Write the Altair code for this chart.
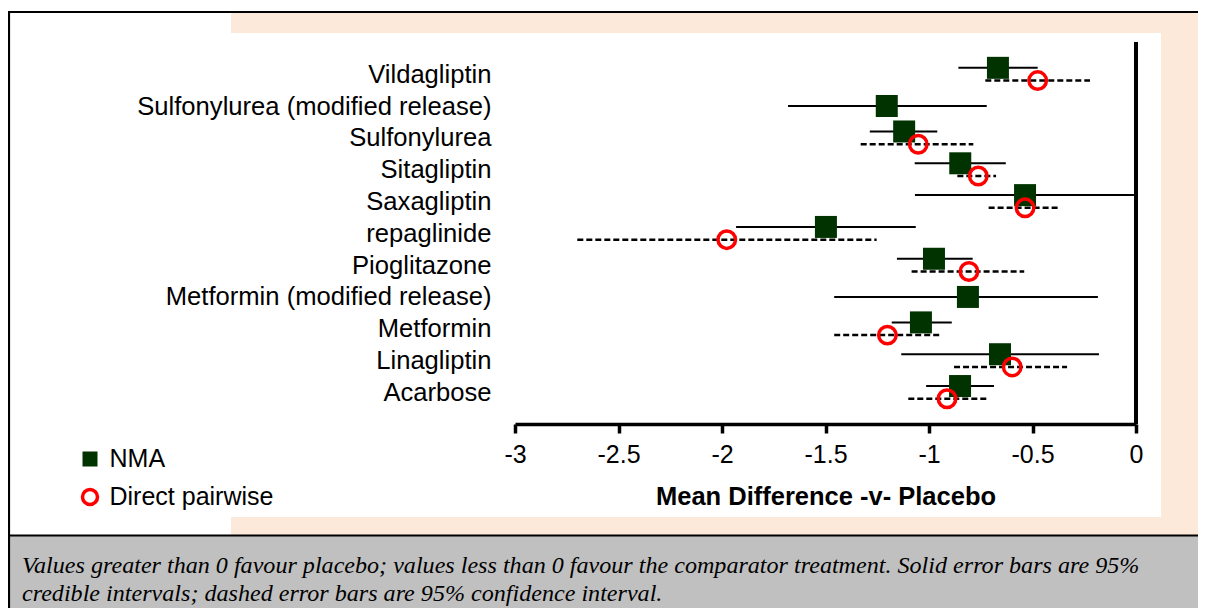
import json
import altair as alt
import pandas as pd

# ---------------- data ----------------
treatments = [
    "Vildagliptin",
    "Sulfonylurea (modified release)",
    "Sulfonylurea",
    "Sitagliptin",
    "Saxagliptin",
    "repaglinide",
    "Pioglitazone",
    "Metformin (modified release)",
    "Metformin",
    "Linagliptin",
    "Acarbose",
]
nma_mean = [-0.667, -1.204, -1.120, -0.849, -0.536, -1.498, -0.976, -0.812, -1.039, -0.657, -0.850]
nma_lo = [-0.858, -1.681, -1.286, -1.069, -1.068, -1.932, -1.155, -1.458, -1.180, -1.134, -1.014]
nma_hi = [-0.475, -0.721, -0.960, -0.629, -0.010, -1.064, -0.789, -0.184, -0.890, -0.179, -0.686]
direct_mean = [-0.475, None, -1.052, -0.762, -0.536, -1.977, -0.807, None, -1.201, -0.598, -0.913]
direct_lo = [-0.728, None, -1.330, -0.863, -0.712, -2.699, -1.084, None, -1.458, -0.879, -1.100]
direct_hi = [-0.222, None, -0.786, -0.676, -0.364, -1.253, -0.540, None, -0.950, -0.333, -0.721]
series_names = ["NMA", "Direct pairwise"]
x_ticks = [-3, -2.5, -2, -1.5, -1, -0.5, 0]
x_title = "Mean Difference -v- Placebo"
caption_lines = [
    "Values greater than 0 favour placebo; values less than 0 favour the comparator treatment. Solid error bars are 95%",
    "credible intervals; dashed error bars are 95% confidence interval.",
]

# ---------------- tables ----------------
nma_rows, dir_rows = [], []
for i, t in enumerate(treatments):
    has_direct = direct_mean[i] is not None
    nma_rows.append({"treatment": t, "pos": i - 0.2 if has_direct else i,
                     "mean": nma_mean[i], "lo": nma_lo[i], "hi": nma_hi[i], "series": series_names[0]})
    if has_direct:
        dir_rows.append({"treatment": t, "pos": i + 0.2,
                         "mean": direct_mean[i], "lo": direct_lo[i], "hi": direct_hi[i], "series": series_names[1]})
nma_df = pd.DataFrame(nma_rows)
dir_df = pd.DataFrame(dir_rows)
one = pd.DataFrame({"k": [0]})

# ---------------- layout ----------------
W, H = 1190, 600
FONT = "Liberation Sans"
x_scale = alt.Scale(domain=[-3, 0], range=[507, 1128], nice=False, zero=False)
y_scale = alt.Scale(domain=[0, len(treatments) - 1], range=[66.2, 384.4], nice=False, zero=False)

x_axis = alt.Axis(values=x_ticks, labelExpr="'' + datum.value", orient="bottom", offset=-184,
                  grid=False, domainColor="black", domainWidth=3.5, tickColor="black", tickWidth=3.5,
                  tickSize=9, labelFont=FONT, labelFontSize=25, labelColor="black", labelPadding=9,
                  labelFlush=False, labelOverlap=False, title=x_title, titleFont=FONT, titleFontSize=25.5,
                  titleFontWeight="bold", titleColor="black", titlePadding=17, zindex=1)
y_axis = alt.Axis(values=list(range(len(treatments))),
                  labelExpr=json.dumps(treatments) + "[datum.value]",
                  orient="left", offset=-483, ticks=False, tickSize=0, domain=False, grid=False,
                  labelPadding=0, labelFont=FONT, labelFontSize=25.6, labelColor="black", labelLimit=0,
                  labelAlign="right", labelBaseline="middle", labelFlush=False, labelOverlap=False,
                  title=None, zindex=1)

leg = alt.Legend(orient="none", legendX=69.5, legendY=438.5, title=None, labelFont=FONT,
                 labelFontSize=25, labelColor="black", labelLimit=0, symbolSize=225, symbolStrokeWidth=3.5,
                 rowPadding=9, labelOffset=7, padding=0, zindex=1)
shape_enc = alt.Shape("series:N", scale=alt.Scale(domain=series_names, range=["square", "circle"]), legend=leg)
fill_enc = alt.Fill("series:N", scale=alt.Scale(domain=series_names, range=["#003300", "transparent"]), legend=leg)
stroke_enc = alt.Stroke("series:N", scale=alt.Scale(domain=series_names, range=["transparent", "#ff0000"]), legend=leg)

# ---------------- decorations ----------------
peach = alt.Chart(one).mark_rect(color="#fde9d9").encode(
    x=alt.value(223), x2=alt.value(W), y=alt.value(5), y2=alt.value(527))
white = alt.Chart(one).mark_rect(color="white").encode(
    x=alt.value(0), x2=alt.value(1153), y=alt.value(25), y2=alt.value(509))
gray = alt.Chart(one).mark_rect(color="#c0c0c0").encode(
    x=alt.value(0), x2=alt.value(W), y=alt.value(528), y2=alt.value(H))
top_line = alt.Chart(one).mark_rule(color="black", strokeWidth=2.2).encode(
    x=alt.value(0), x2=alt.value(W), y=alt.value(4))
mid_line = alt.Chart(one).mark_rule(color="black", strokeWidth=2).encode(
    x=alt.value(0), x2=alt.value(W), y=alt.value(527.5))
left_line = alt.Chart(one).mark_rule(color="black", strokeWidth=2.2).encode(
    x=alt.value(1), y=alt.value(3), y2=alt.value(H))
cap1 = alt.Chart(one).mark_text(align="left", baseline="alphabetic", font="Liberation Serif",
                                fontStyle="italic", fontSize=24.1, color="black").encode(
    x=alt.value(14), y=alt.value(565), text=alt.value(caption_lines[0]))
cap2 = alt.Chart(one).mark_text(align="left", baseline="alphabetic", font="Liberation Serif",
                                fontStyle="italic", fontSize=24.1, color="black").encode(
    x=alt.value(14), y=alt.value(592.5), text=alt.value(caption_lines[1]))

zero_line = alt.Chart(one).mark_rule(color="black", strokeWidth=4).encode(
    x=alt.X(datum=0, scale=x_scale, axis=x_axis), y=alt.value(34), y2=alt.value(416))

# ---------------- data layers ----------------
nma_bars = alt.Chart(nma_df).mark_rule(color="black", strokeWidth=2).encode(
    x=alt.X("lo:Q", scale=x_scale, axis=x_axis), x2="hi:Q",
    y=alt.Y("pos:Q", scale=y_scale, axis=y_axis))
dir_bars = alt.Chart(dir_df).mark_rule(color="black", strokeWidth=2.5, strokeDash=[6, 3]).encode(
    x=alt.X("lo:Q", scale=x_scale, axis=x_axis), x2="hi:Q",
    y=alt.Y("pos:Q", scale=y_scale, axis=y_axis))
nma_pts = alt.Chart(nma_df).mark_point(filled=True, size=484, strokeWidth=0, opacity=1).encode(
    x=alt.X("mean:Q", scale=x_scale, axis=x_axis),
    y=alt.Y("pos:Q", scale=y_scale, axis=y_axis),
    shape=shape_enc, fill=fill_enc, stroke=stroke_enc,
    tooltip=["treatment", "series", "mean", "lo", "hi"])
dir_pts = alt.Chart(dir_df).mark_point(size=306, strokeWidth=3.5, opacity=1).encode(
    x=alt.X("mean:Q", scale=x_scale, axis=x_axis),
    y=alt.Y("pos:Q", scale=y_scale, axis=y_axis),
    shape=shape_enc, fill=fill_enc, stroke=stroke_enc,
    tooltip=["treatment", "series", "mean", "lo", "hi"])

chart = alt.layer(
    peach, white, gray, top_line, mid_line, left_line, cap1, cap2,
    zero_line, nma_bars, dir_bars, nma_pts, dir_pts,
).properties(
    width=W, height=H, autosize=alt.AutoSizeParams(type="none"), padding=0, background="white"
).configure_view(strokeWidth=0)

chart.save("out.html", embed_options={"renderer": "svg", "actions": False})
